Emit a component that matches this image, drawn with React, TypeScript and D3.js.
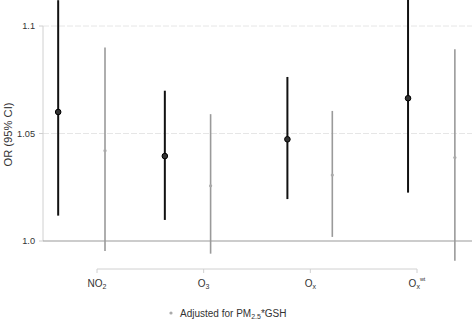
import * as d3 from "d3";
import React, {useEffect, useRef} from "react";

const pollutants = ["NO2", "O3", "Ox", "Oxwt"];
const tickPos = [1, 2, 3, 4];

// unadjusted estimates (black)
const mainX = [0.636, 1.636, 2.785, 3.916];
const mainOR = [1.060, 1.0395, 1.0473, 1.0664];
const mainLo = [1.0118, 1.0098, 1.0195, 1.0225];
const mainHi = [1.112, 1.0699, 1.0763, 1.115];

// adjusted for PM2.5*GSH (gray)
const adjX = [1.075, 2.065, 3.206, 4.355];
const adjOR = [1.042, 1.0257, 1.0307, 1.0388];
const adjLo = [0.9953, 0.9941, 1.0019, 0.9908];
const adjHi = [1.090, 1.059, 1.0605, 1.0892];

const yTicks = [1.0, 1.05, 1.1];
const yTickLabels = ["1.0", "1.05", "1.1"];

const App = () => {
    const ref = useRef(null);

    useEffect(() => {
        const width = 472, height = 320;
        const fs = 10;
        const svg = d3.select(ref.current);
        svg.selectAll("*").remove();
        svg.attr("width", width).attr("height", height)
            .style("font-family", "Liberation Sans, Arial, sans-serif");

        const x = d3.scaleLinear().domain([1, 4]).range([97, 417]);
        const y = d3.scaleLinear().domain([1.0, 1.1]).range([241, 26]);
        const left = 43;

        // grid
        svg.append("g").selectAll("line")
            .data(yTicks.slice(1))
            .join("line")
            .attr("x1", left).attr("x2", width)
            .attr("y1", d => y(d)).attr("y2", d => y(d))
            .attr("stroke", "#e6e6e6").attr("stroke-dasharray", "6,2");

        // y axis
        svg.append("line")
            .attr("x1", left).attr("x2", left)
            .attr("y1", y(1.1)).attr("y2", y(1.0))
            .attr("stroke", "#d0d0d0");
        const yt = svg.append("g").selectAll("g").data(yTicks).join("g");
        yt.append("line")
            .attr("x1", left - 4).attr("x2", left)
            .attr("y1", d => y(d)).attr("y2", d => y(d))
            .attr("stroke", "#d0d0d0");
        yt.append("text")
            .attr("x", left - 8).attr("y", d => y(d))
            .attr("dy", "0.35em").attr("text-anchor", "end")
            .attr("font-size", 9.2).attr("fill", "#333")
            .text((d, i) => yTickLabels[i]);
        svg.append("text")
            .attr("transform", `translate(12,${y(1.05) + 1}) rotate(-90)`)
            .attr("text-anchor", "middle")
            .attr("font-size", 11.2).attr("fill", "#333")
            .text("OR (95% CI)");

        // reference line at 1
        svg.append("line")
            .attr("x1", left).attr("x2", width)
            .attr("y1", y(1.0)).attr("y2", y(1.0))
            .attr("stroke", "#999").attr("stroke-width", 1.2);

        // x axis
        const xAxisY = 269;
        svg.append("line")
            .attr("x1", x(1)).attr("x2", x(4))
            .attr("y1", xAxisY).attr("y2", xAxisY)
            .attr("stroke", "#d0d0d0");
        svg.append("g").selectAll("line").data(tickPos).join("line")
            .attr("x1", d => x(d)).attr("x2", d => x(d))
            .attr("y1", xAxisY).attr("y2", xAxisY + 4)
            .attr("stroke", "#d0d0d0");
        const lab = svg.append("g").selectAll("text").data(pollutants).join("text")
            .attr("x", (d, i) => x(tickPos[i]))
            .attr("y", xAxisY + 18)
            .attr("text-anchor", "middle")
            .attr("font-size", fs).attr("fill", "#333");
        lab.each(function (d) {
            const t = d3.select(this);
            if (d === "NO2") {
                t.append("tspan").text("NO");
                t.append("tspan").attr("font-size", 7).attr("dy", 2).text("2");
            } else if (d === "O3") {
                t.append("tspan").text("O");
                t.append("tspan").attr("font-size", 7).attr("dy", 2).text("3");
            } else if (d === "Ox") {
                t.append("tspan").text("O");
                t.append("tspan").attr("font-size", 7).attr("dy", 2).text("x");
            } else {
                t.append("tspan").text("O");
                t.append("tspan").attr("font-size", 7).attr("dy", 2).text("x");
                t.append("tspan").attr("font-size", 5.5).attr("dy", -8).text("wt");
            }
        });

        // adjusted (gray)
        const adj = svg.append("g").selectAll("g").data(adjX).join("g");
        adj.append("line")
            .attr("x1", d => x(d)).attr("x2", d => x(d))
            .attr("y1", (d, i) => y(adjLo[i])).attr("y2", (d, i) => y(adjHi[i]))
            .attr("stroke", "#9a9a9a").attr("stroke-width", 1.6);
        adj.append("circle")
            .attr("cx", d => x(d)).attr("cy", (d, i) => y(adjOR[i]))
            .attr("r", 1.6).attr("fill", "#aaa");

        // main (black)
        const main = svg.append("g").selectAll("g").data(mainX).join("g");
        main.append("line")
            .attr("x1", d => x(d)).attr("x2", d => x(d))
            .attr("y1", (d, i) => y(mainLo[i])).attr("y2", (d, i) => y(mainHi[i]))
            .attr("stroke", "#111").attr("stroke-width", 2);
        main.append("circle")
            .attr("cx", d => x(d)).attr("cy", (d, i) => y(mainOR[i]))
            .attr("r", 2.8).attr("fill", "#333").attr("stroke", "#000").attr("stroke-width", 1);

        // legend
        svg.append("circle").attr("cx", 171).attr("cy", 313).attr("r", 1.6).attr("fill", "#aaa");
        const lt = svg.append("text").attr("x", 180).attr("y", 317)
            .attr("font-size", fs).attr("fill", "#333");
        lt.append("tspan").text("Adjusted for PM");
        lt.append("tspan").attr("font-size", 7).attr("dy", 2).text("2.5");
        lt.append("tspan").attr("dy", -2).text("*GSH");
    }, []);

    return (
        <div style={{position: "fixed", left: 0, top: 0, background: "#fff"}}>
            <svg ref={ref}/>
        </div>
    );
};

export default App;
